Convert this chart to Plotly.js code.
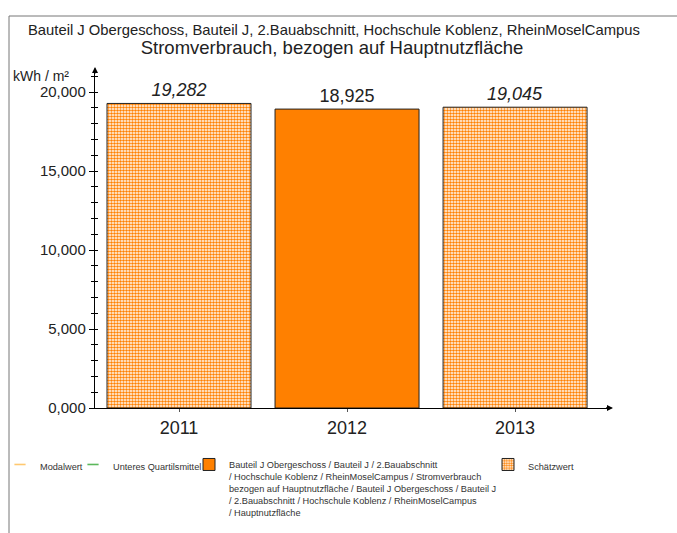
<!DOCTYPE html>
<html><head><meta charset="utf-8">
<script src="https://cdn.plot.ly/plotly-3.0.1.min.js"></script>
<style>body{margin:0;padding:0;background:#fff}#chart{width:677px;height:533px}</style>
</head><body><div id="chart"></div>
<script>
const years = ['2011', '2012', '2013'];
const values = [19.282, 18.925, 19.045];
const estimated = [true, false, true];
const yTicks = [0, 5, 10, 15, 20];
const titleLine1 = 'Bauteil J Obergeschoss, Bauteil J, 2.Bauabschnitt, Hochschule Koblenz, RheinMoselCampus';
const titleLine2 = 'Stromverbrauch, bezogen auf Hauptnutzfläche';
const yUnit = 'kWh / m²';
const seriesName = 'Bauteil J Obergeschoss / Bauteil J / 2.Bauabschnitt<br>/ Hochschule Koblenz / RheinMoselCampus / Stromverbrauch<br>bezogen auf Hauptnutzfläche / Bauteil J Obergeschoss / Bauteil J<br>/ 2.Bauabschnitt / Hochschule Koblenz / RheinMoselCampus<br>/ Hauptnutzfläche';
const estName = 'Schätzwert';
const legendLines = ['Modalwert', 'Unteres Quartilsmittel'];
const legendLineColors = ['#FFC870', '#5CB85C'];

const FONT = 'Liberation Sans, Arial, sans-serif';
const ORANGE = '#FF8000';
const PW = 677, PH = 533;
const L = 95, W = 515, T = 70, H = 338;
const px2x = p => (p - L) / W;
const py2y = p => (T + H - p) / H;

const solidX = [], solidY = [], estX = [], estY = [];
years.forEach((y, i) => {
  if (estimated[i]) { estX.push(y); estY.push(values[i]); }
  else { solidX.push(y); solidY.push(values[i]); }
});

const traces = [];
legendLines.forEach((n, i) => {
  traces.push({type: 'scatter', mode: 'markers', x: [null], y: [null], name: n,
    legend: i === 0 ? 'legend' : 'legend2',
    marker: {symbol: 'line-ew-open', size: 8, color: legendLineColors[i], line: {color: legendLineColors[i], width: 1.6}},
    showlegend: true, hoverinfo: 'skip'});
});
traces.push({type: 'bar', x: solidX, y: solidY, name: seriesName, legend: 'legend3',
  marker: {color: ORANGE, line: {color: '#222', width: 1}},
  texttemplate: '%{y:.3f}', textposition: 'outside', cliponaxis: false,
  textfont: {size: 18, color: '#222', family: FONT}});
traces.push({type: 'bar', x: estX, y: estY, name: estName, legend: 'legend4',
  marker: {color: '#fff', line: {color: '#222', width: 1},
    pattern: {shape: '.', fgcolor: ORANGE, bgcolor: '#fff', size: 3, solidity: 0.55, fillmode: 'replace'}},
  texttemplate: '%{y:.3f}', textposition: 'outside', cliponaxis: false,
  textfont: {size: 18, color: '#222', family: FONT, style: 'italic'}});
// inside half of the crossing ticks
traces.push({type: 'scatter', mode: 'markers', x: [null], y: [null], yaxis: 'y2', showlegend: false, hoverinfo: 'skip'});

const legFont = {size: 9.2, family: FONT, color: '#333'};
const mkLeg = (leftPx) => ({orientation: 'h', xref: 'container', yref: 'container',
  x: leftPx / PW, xanchor: 'left', y: 1 - 452 / PH, yanchor: 'top',
  itemwidth: 30, font: legFont, bgcolor: 'rgba(0,0,0,0)', valign: 'top'});

const layout = {
  width: PW, height: PH,
  margin: {l: L, r: PW - L - W, t: T, b: PH - T - H},
  separators: ',.',
  font: {family: FONT, color: '#222'},
  paper_bgcolor: '#fff', plot_bgcolor: '#fff',
  barmode: 'overlay', bargap: 0.143,
  showlegend: true,
  legend: mkLeg(0), legend2: mkLeg(73), legend3: mkLeg(189), legend4: mkLeg(488),
  title: {text: titleLine2, x: 332 / PW, xref: 'container', xanchor: 'center', y: 1 - 48 / PH, yanchor: 'middle',
    font: {size: 18.5, family: FONT, color: '#222'}},
  xaxis: {type: 'category', categoryarray: years, range: [-0.5, 2.565],
    showline: true, linecolor: '#000', linewidth: 1.2, ticks: 'outside', ticklen: 3, tickcolor: '#555',
    tickfont: {size: 18, family: FONT, color: '#222'}, showgrid: false, zeroline: false},
  yaxis: {range: [0, 21.4], showline: true, linecolor: '#000', linewidth: 1.2,
    tickvals: yTicks,
    ticks: 'outside', ticklen: 5, tickcolor: '#000', tickformat: '.3f',
    minor: {dtick: 1, ticks: 'outside', ticklen: 3, tickcolor: '#000'},
    tickfont: {size: 15, family: FONT, color: '#222'}, showgrid: false, zeroline: false},
  yaxis2: {overlaying: 'y', range: [0, 21.4], tickvals: yTicks, ticks: 'inside', ticklen: 3, tickcolor: '#000',
    minor: {dtick: 1, ticks: 'inside', ticklen: 3, tickcolor: '#000'},
    showticklabels: false, showgrid: false, zeroline: false, showline: false},
  annotations: [
    {text: titleLine1, xref: 'paper', yref: 'paper', x: px2x(333.5), y: py2y(30), xanchor: 'center', yanchor: 'middle',
      showarrow: false, font: {size: 14.8, family: FONT, color: '#222'}},
    {text: yUnit, xref: 'paper', yref: 'paper', x: px2x(71), y: py2y(76), xanchor: 'right', yanchor: 'middle',
      showarrow: false, font: {size: 14, family: FONT, color: '#222'}},
    {text: '', xref: 'paper', yref: 'paper', x: 0, y: py2y(67), ax: 0, ay: 8, showarrow: true, arrowhead: 2, arrowsize: 1, arrowwidth: 1.2, arrowcolor: '#000'},
    {text: '', xref: 'paper', yref: 'paper', x: px2x(613), y: 0, ax: -8, ay: 0, showarrow: true, arrowhead: 2, arrowsize: 1, arrowwidth: 1.2, arrowcolor: '#000'}
  ],
  shapes: [
    {type: 'line', xref: 'paper', yref: 'paper', x0: 0, x1: 0, y0: 1, y1: py2y(72), line: {color: '#000', width: 1.2}},
    {type: 'line', xref: 'paper', yref: 'paper', x0: 1, x1: px2x(606), y0: 0, y1: 0, line: {color: '#000', width: 1.2}},
    {type: 'line', xref: 'paper', yref: 'paper', x0: px2x(9), x1: px2x(680), y0: py2y(16), y1: py2y(16), line: {color: '#777', width: 1}},
    {type: 'line', xref: 'paper', yref: 'paper', x0: px2x(9), x1: px2x(9), y0: py2y(16), y1: py2y(540), line: {color: '#777', width: 1}}
  ]
};
Plotly.newPlot('chart', traces, layout, {displayModeBar: false, staticPlot: true});
</script></body></html>
